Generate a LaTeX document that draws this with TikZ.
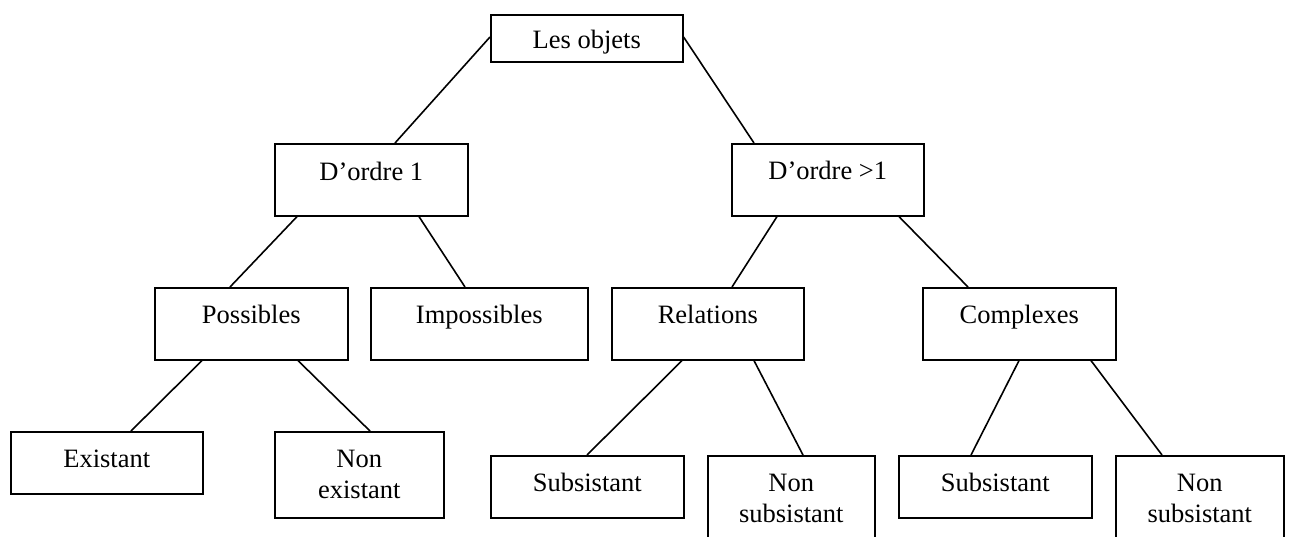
\documentclass[tikz,border=0pt]{standalone}
\usepackage{fontspec}
\setmainfont{Liberation Serif}
\begin{document}
\begin{tikzpicture}[x=1pt,y=-1pt,
  box/.style={draw, line width=1.6pt, inner sep=0pt, anchor=north west,
    font=\fontsize{26.5}{31}\selectfont},
  conn/.style={line width=1.6pt}]
\useasboundingbox (0,0) rectangle (1293,536);
\clip (0,0) rectangle (1293,536);
% level 0
\node[box, minimum width=192pt, text height=34pt, text depth=13pt] (lo) at (490,14) {Les objets};
% level 1
\node[box, minimum width=193pt, text height=37pt, text depth=35pt] (d1) at (274,143) {D’ordre 1};
\node[box, minimum width=192pt, text height=36pt, text depth=36pt] (d2) at (731,143) {D’ordre >1};
% level 2
\node[box, minimum width=193pt, text height=36pt, text depth=36pt] (pos) at (154,287) {Possibles};
\node[box, minimum width=217pt, text height=36pt, text depth=36pt] (imp) at (370,287) {Impossibles};
\node[box, minimum width=192pt, text height=36pt, text depth=36pt] (rel) at (611,287) {Relations};
\node[box, minimum width=193pt, text height=36pt, text depth=36pt] (com) at (922,287) {Complexes};
% level 3
\node[box, minimum width=192pt, text height=36pt, text depth=26pt] (ex) at (10,431) {Existant};
\node[box, minimum width=169pt, text height=36pt, text depth=50pt] (nex) at (274,431)
  {\begin{tabular}[t]{@{}c@{}}Non\\existant\end{tabular}};
\node[box, minimum width=193pt, text height=36pt, text depth=26pt] (s1) at (490,455) {Subsistant};
\node[box, minimum width=167pt, text height=36pt, text depth=54pt] (ns1) at (707,455)
  {\begin{tabular}[t]{@{}c@{}}Non\\subsistant\end{tabular}};
\node[box, minimum width=193pt, text height=36pt, text depth=26pt] (s2) at (898,455) {Subsistant};
\node[box, minimum width=168pt, text height=36pt, text depth=54pt] (ns2) at (1115,455)
  {\begin{tabular}[t]{@{}c@{}}Non\\subsistant\end{tabular}};
% connectors
\draw[conn] ([yshift=-23pt]lo.north west) -- ([xshift=121pt]d1.north west);
\draw[conn] ([yshift=-23pt]lo.north east) -- ([xshift=23pt]d2.north west);
\draw[conn] ([xshift=23pt]d1.south west) -- ([xshift=76pt]pos.north west);
\draw[conn] ([xshift=145pt]d1.south west) -- ([xshift=95pt]imp.north west);
\draw[conn] ([xshift=46pt]d2.south west) -- ([xshift=121pt]rel.north west);
\draw[conn] ([xshift=168pt]d2.south west) -- ([xshift=46pt]com.north west);
\draw[conn] ([xshift=48pt]pos.south west) -- ([xshift=121pt]ex.north west);
\draw[conn] ([xshift=144pt]pos.south west) -- ([xshift=96pt]nex.north west);
\draw[conn] ([xshift=71pt]rel.south west) -- ([xshift=97pt]s1.north west);
\draw[conn] ([xshift=143pt]rel.south west) -- ([xshift=96pt]ns1.north west);
\draw[conn] ([xshift=97pt]com.south west) -- ([xshift=73pt]s2.north west);
\draw[conn] ([xshift=169pt]com.south west) -- ([xshift=47pt]ns2.north west);
\end{tikzpicture}
\end{document}
